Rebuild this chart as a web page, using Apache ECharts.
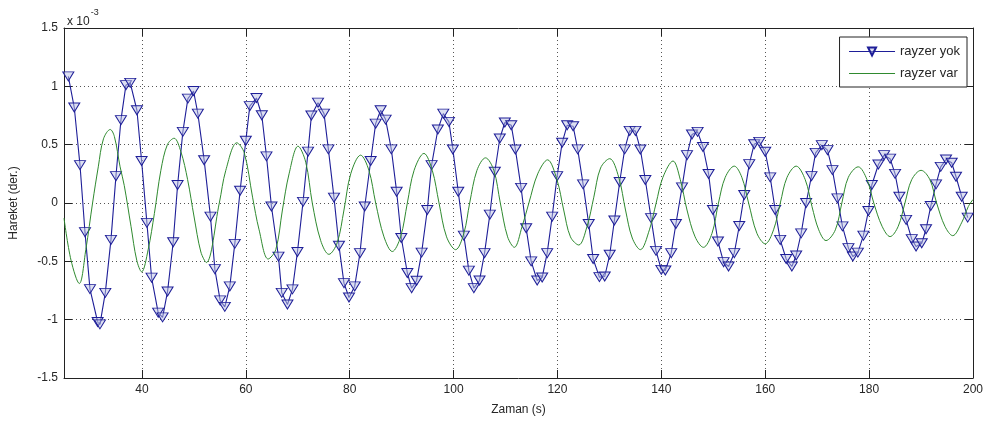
<!DOCTYPE html>
<html>
<head>
<meta charset="utf-8">
<script src="https://cdn.jsdelivr.net/npm/echarts@6/dist/echarts.min.js"></script>
<style>html,body{margin:0;padding:0;background:#fff}#c{width:987px;height:428px}</style>
</head>
<body>
<div id="c"></div>
<script>
// values in units of 1e-3 (as displayed with the "x 10^-3" exponent)
const seriesNames = ['rayzer yok', 'rayzer var'];
const xTicks = [40, 60, 80, 100, 120, 140, 160, 180, 200];
const yTicks = [-1.5, -1, -0.5, 0, 0.5, 1, 1.5];

const blueX = [25.83,26.98,28.08,29.04,30.0,31.48,31.92,32.95,34.04,35.0,35.96,36.92,37.75,39.04,39.94,40.96,41.86,43.13,43.98,44.94,
46.02,46.87,47.88,48.85,49.94,50.77,51.98,53.2,54.04,55.06,55.96,56.92,57.88,58.9,60.0,60.77,62.06,63.08,63.98,64.94,
66.29,66.92,68.02,68.98,69.94,71.02,71.98,72.63,73.9,75.06,75.9,76.98,77.94,78.9,79.87,80.96,81.98,82.9,84.04,85.0,
85.96,86.92,88.02,89.04,89.94,91.1,91.92,92.88,93.85,94.94,95.77,96.98,98.02,99.1,99.87,100.9,101.98,102.94,103.9,105.0,
105.96,106.98,107.94,108.9,109.87,111.1,111.9,113.0,113.98,114.94,116.1,117.06,118.02,118.98,119.94,120.9,121.87,123.02,123.9,124.94,
126.02,126.87,128.08,129.1,130.06,130.96,131.98,132.94,133.9,135.0,135.96,136.92,138.02,138.98,140.0,140.77,141.9,142.8,143.98,144.94,
145.9,146.98,148.02,149.1,149.94,150.9,151.98,152.94,154.04,155.0,155.96,156.92,157.88,158.85,160.0,160.96,161.92,162.88,164.04,165.13,
165.96,166.92,167.88,168.9,169.7,170.9,171.98,172.94,173.9,174.87,176.02,176.87,177.83,178.9,179.87,180.52,181.79,182.88,184.04,185.0,
185.83,187.12,188.21,189.04,190.13,190.96,191.87,192.88,193.79,194.81,195.9,196.73,197.83,198.98];
const blueY = [1.085,0.818,0.325,-0.25,-0.738,-1.02,-1.04,-0.77,-0.316,0.23,0.71,1.01,1.03,0.795,0.36,-0.17,-0.64,-0.94,-0.98,-0.758,
-0.336,0.154,0.61,0.895,0.96,0.766,0.367,-0.117,-0.567,-0.835,-0.89,-0.715,-0.35,0.105,0.533,0.83,0.90,0.752,0.40,-0.03,
-0.46,-0.77,-0.87,-0.74,-0.42,0.01,0.44,0.75,0.86,0.766,0.46,0.046,-0.367,-0.687,-0.81,-0.715,-0.43,-0.03,0.36,0.68,
0.795,0.715,0.46,0.097,-0.30,-0.60,-0.73,-0.667,-0.425,-0.06,0.325,0.63,0.766,0.695,0.459,0.097,-0.28,-0.58,-0.73,-0.664,
-0.43,-0.10,0.268,0.553,0.69,0.667,0.459,0.13,-0.217,-0.50,-0.664,-0.638,-0.43,-0.117,0.23,0.516,0.667,0.658,0.46,0.16,
-0.18,-0.48,-0.635,-0.63,-0.444,-0.15,0.18,0.46,0.618,0.618,0.459,0.197,-0.13,-0.41,-0.573,-0.578,-0.43,-0.18,0.134,0.41,
0.587,0.61,0.48,0.248,-0.06,-0.33,-0.507,-0.544,-0.43,-0.197,0.068,0.333,0.504,0.524,0.439,0.22,-0.06,-0.316,-0.48,-0.544,
-0.45,-0.26,0.0,0.23,0.43,0.496,0.453,0.282,0.04,-0.20,-0.387,-0.459,-0.425,-0.28,-0.068,0.154,0.33,0.41,0.38,0.25,
0.054,-0.145,-0.31,-0.373,-0.345,-0.225,-0.026,0.16,0.31,0.373,0.345,0.225,0.054,-0.125];

const greenX = [25.0,26.35,27.95,29.2,30.5,31.6,32.6,33.9,34.7,35.8,36.6,37.9,39.0,39.95,41.2,42.4,43.65,44.9,46.2,47.5,
48.8,50.05,51.35,52.4,54.9,56.15,58.27,59.7,61.3,62.56,64.3,65.77,67.05,68.33,70.06,71.54,72.8,74.4,76.0,77.6,
78.9,80.2,82.1,83.7,85.0,86.6,88.2,89.8,91.1,92.4,94.3,95.9,97.2,98.65,100.4,101.98,103.1,104.5,106.15,107.75,
109.0,110.4,111.7,113.2,114.5,116.2,118.1,119.9,121.2,122.5,124.1,125.7,127.0,128.3,130.06,131.8,133.1,134.4,135.96,137.7,
139.0,140.3,142.25,143.65,144.94,146.5,148.1,149.75,151.0,152.3,154.04,155.5,156.8,158.4,160.0,161.6,162.9,164.2,165.96,167.7,
169.0,170.3,171.7,173.5,174.75,176.0,177.9,179.6,180.9,182.5,184.04,185.6,186.9,188.2,190.0,191.7,193.0,194.6,196.1,197.8,
199.1,200.0];
const greenY = [-0.13,-0.49,-0.69,-0.40,0.0,0.31,0.55,0.63,0.57,0.31,0.15,-0.2,-0.49,-0.59,-0.40,-0.09,0.28,0.50,0.555,0.44,
0.2,-0.12,-0.42,-0.51,0.0,0.28,0.516,0.43,0.05,-0.23,-0.48,-0.40,-0.06,0.25,0.487,0.35,0.0,-0.32,-0.44,-0.34,
-0.06,0.25,0.41,0.28,0.0,-0.29,-0.416,-0.29,0.0,0.28,0.425,0.28,0.0,-0.29,-0.40,-0.26,0.0,0.28,0.387,0.28,
0.0,-0.29,-0.38,-0.2,0.0,0.25,0.37,0.2,-0.06,-0.29,-0.36,-0.2,0.05,0.3,0.38,0.22,-0.06,-0.30,-0.40,-0.23,
0.0,0.22,0.36,0.2,-0.06,-0.29,-0.38,-0.26,0.0,0.22,0.316,0.22,0.0,-0.26,-0.35,-0.23,0.0,0.22,0.316,0.2,
-0.03,-0.23,-0.322,-0.23,0.0,0.22,0.31,0.2,0.0,-0.2,-0.288,-0.2,0.0,0.2,0.28,0.2,0.0,-0.2,-0.28,-0.17,
-0.03,0.03];

const blueData = blueX.map((x, i) => [x, blueY[i]]);
const greenData = greenX.map((x, i) => [x, greenY[i]]);

const FONT = 'Liberation Sans, Arial, sans-serif';
const TXT = '#262626';
const BLUE = '#1e1e98';
const GREEN = '#2f8a2f';

const chart = echarts.init(document.getElementById('c'), null, {renderer: 'canvas'});
const gridLine = {show: true, lineStyle: {color: '#555', type: [1, 3], width: 1}};
chart.setOption({
  animation: false,
  backgroundColor: '#fff',
  grid: {left: 63, right: 14, top: 28, bottom: 50, containLabel: false},
  title: {
    left: 62, top: 3,
    text: '{a|x 10}{b|-3}',
    textStyle: {fontWeight: 'normal', rich: {
      a: {fontFamily: FONT, fontSize: 12, fontWeight: 'normal', color: TXT, padding: [8, 0, 0, 0]},
      b: {fontFamily: FONT, fontSize: 9, fontWeight: 'normal', color: TXT, verticalAlign: 'top', padding: [0, 0, 8, 1]}
    }}
  },
  legend: {
    orient: 'vertical', right: 20, top: 37,
    backgroundColor: '#fff', borderColor: '#222', borderWidth: 1,
    padding: [8, 7, 7, 9], itemGap: 9, itemWidth: 46, itemHeight: 10,
    textStyle: {fontFamily: FONT, fontSize: 13, color: TXT},
    data: [
      {name: seriesNames[0], lineStyle: {color: BLUE, width: 1}},
      {name: seriesNames[1], itemStyle: {opacity: 0}, lineStyle: {color: GREEN, width: 1}}
    ]
  },
  xAxis: [{
    type: 'value', min: 25, max: 200, splitNumber: 9, minInterval: 20, maxInterval: 20,
    position: 'bottom',
    name: 'Zaman (s)', nameLocation: 'middle', nameGap: 26,
    nameTextStyle: {fontFamily: FONT, fontSize: 12, color: TXT},
    axisLine: {show: true, onZero: false, lineStyle: {color: '#222', width: 1}},
    axisTick: {show: true, inside: true, length: 8, lineStyle: {color: '#222'}},
    axisLabel: {fontFamily: FONT, fontSize: 12, color: TXT, margin: 6, showMinLabel: false,
      formatter: v => (xTicks.indexOf(v) >= 0 ? String(v) : '')},
    splitLine: gridLine
  }, {
    type: 'value', min: 25, max: 200, splitNumber: 9, minInterval: 20, maxInterval: 20,
    position: 'top',
    axisLine: {show: true, onZero: false, lineStyle: {color: '#222', width: 1}},
    axisTick: {show: true, inside: true, length: 8, lineStyle: {color: '#222'}},
    axisLabel: {show: false}, splitLine: {show: false}
  }],
  yAxis: [{
    type: 'value', min: yTicks[0], max: yTicks[yTicks.length - 1], interval: 0.5,
    position: 'left',
    name: 'Hareket (der.)', nameLocation: 'middle', nameGap: 44,
    nameTextStyle: {fontFamily: FONT, fontSize: 12, color: TXT},
    axisLine: {show: true, onZero: false, lineStyle: {color: '#222', width: 1}},
    axisTick: {show: true, inside: true, length: 8, lineStyle: {color: '#222'}},
    axisLabel: {fontFamily: FONT, fontSize: 12, color: TXT, margin: 6},
    splitLine: gridLine
  }, {
    type: 'value', min: yTicks[0], max: yTicks[yTicks.length - 1], interval: 0.5,
    position: 'right',
    axisLine: {show: true, onZero: false, lineStyle: {color: '#222', width: 1}},
    axisTick: {show: true, inside: true, length: 8, lineStyle: {color: '#222'}},
    axisLabel: {show: false}, splitLine: {show: false}
  }],
  series: [{
    name: seriesNames[0], type: 'line', xAxisIndex: 0, yAxisIndex: 0,
    data: blueData, showAllSymbol: true,
    symbol: 'triangle', symbolRotate: 180, symbolSize: [11, 9],
    itemStyle: {color: 'rgba(185,192,228,0.5)', borderColor: BLUE, borderWidth: 1},
    lineStyle: {color: BLUE, width: 1.1},
    z: 2
  }, {
    name: seriesNames[1], type: 'line', xAxisIndex: 0, yAxisIndex: 0,
    data: greenData, symbol: 'none', smooth: 0.35,
    itemStyle: {color: GREEN},
    lineStyle: {color: GREEN, width: 1},
    z: 3
  }]
});
</script>
</body>
</html>
